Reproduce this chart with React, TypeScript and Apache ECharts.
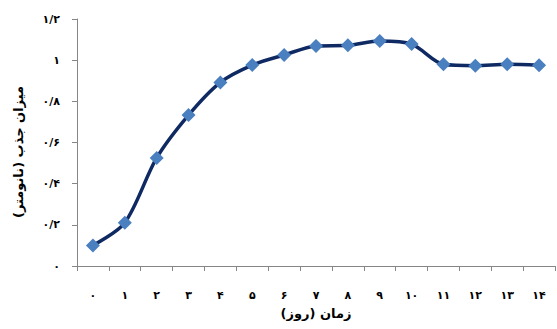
import React, { useEffect, useRef } from "react";
import * as echarts from "echarts";

const categories = ["۰", "۱", "۲", "۳", "۴", "۵", "۶", "۷", "۸", "۹", "۱۰", "۱۱", "۱۲", "۱۳", "۱۴"];
const absorbance = [0.10, 0.21, 0.525, 0.733, 0.892, 0.976, 1.025, 1.069, 1.072, 1.093, 1.078, 0.98, 0.973, 0.98, 0.975];
const yTickLabels = ["۰", "۰/۲", "۰/۴", "۰/۶", "۰/۸", "۱", "۱/۲"];
const xTitle = "زمان (روز)";
const yTitle = "میزان جذب (نانومتر)";

const FONT = "DejaVu Sans";

export default function App() {
  const ref = useRef<HTMLDivElement>(null);
  useEffect(() => {
    if (!ref.current) return;
    const chart = echarts.init(ref.current, undefined, { renderer: "svg" });
    chart.setOption({
      animation: false,
      backgroundColor: "#ffffff",
      grid: { left: 77, right: 2, top: 19, bottom: 63, containLabel: false },
      graphic: [
        {
          type: "text",
          x: 18,
          y: 152,
          rotation: Math.PI / 2,
          style: {
            text: yTitle,
            fill: "#000",
            font: `bold 13px "${FONT}"`,
            align: "center",
            verticalAlign: "middle",
          },
        },
      ],
      xAxis: {
        type: "category",
        data: categories,
        boundaryGap: true,
        axisLine: { lineStyle: { color: "#868686", width: 1 } },
        axisTick: { show: true, alignWithLabel: false, length: 5, lineStyle: { color: "#868686" } },
        axisLabel: { color: "#000", fontFamily: FONT, fontSize: 11, fontWeight: "bold", margin: 24 },
        name: xTitle,
        nameLocation: "middle",
        nameGap: 41,
        nameTextStyle: { color: "#000", fontFamily: FONT, fontSize: 13, fontWeight: "bold" },
      },
      yAxis: {
        type: "value",
        min: 0,
        max: 1.2,
        interval: 0.2,
        splitLine: { show: false },
        axisLine: { show: true, lineStyle: { color: "#868686", width: 1 } },
        axisTick: { show: true, length: 5, lineStyle: { color: "#868686" } },
        axisLabel: {
          color: "#000",
          fontFamily: FONT,
          fontSize: 11,
          fontWeight: "bold",
          margin: 17,
          formatter: (v: number) => yTickLabels[Math.round(v / 0.2)] ?? "",
        },
      },
      series: [
        {
          type: "line",
          data: absorbance,
          smooth: 0.3,
          symbol: "diamond",
          symbolSize: 14,
          lineStyle: { color: "#0f2a63", width: 3.5 },
          itemStyle: { color: "#4a7fc0" },
        },
      ],
    });
    return () => chart.dispose();
  }, []);
  return <div ref={ref} style={{ position: "fixed", left: 0, top: 0, width: 557, height: 329 }} />;
}
